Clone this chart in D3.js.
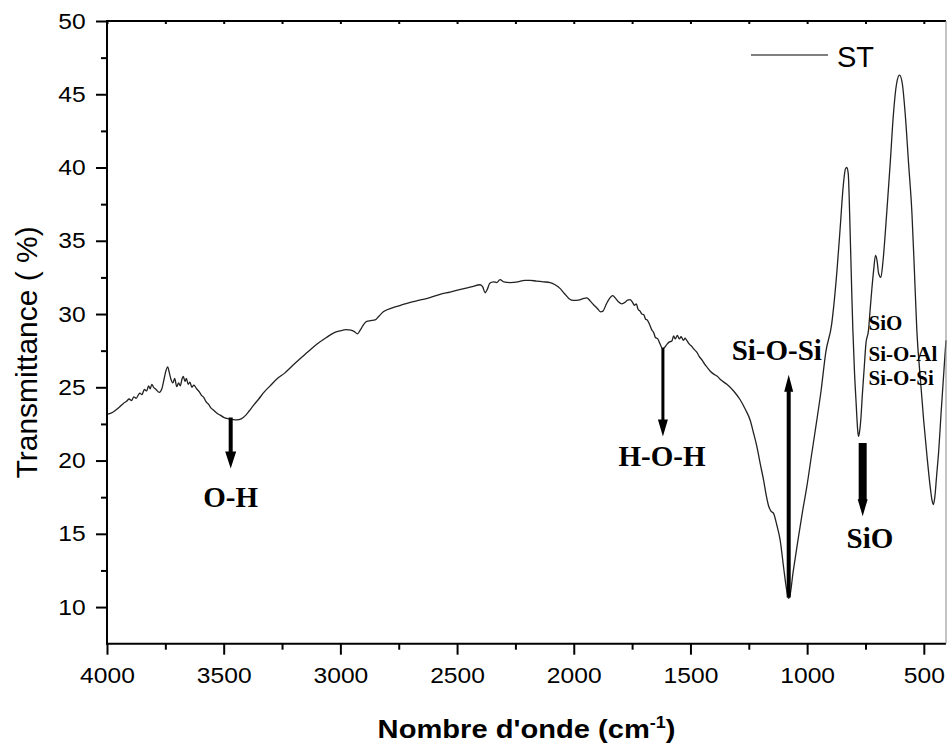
<!DOCTYPE html>
<html>
<head>
<meta charset="utf-8">
<script src="https://cdn.jsdelivr.net/npm/d3@7"></script>
<style>
  html, body { margin: 0; padding: 0; background: #fff; }
  svg { display: block; font-family: "Liberation Sans", Arial, sans-serif; }
</style>
</head>
<body>
<div id="chart"></div>
<script>
// FTIR spectrum of sample ST
const wavenumber = [
  4000, 3975, 3950, 3930, 3916, 3905, 3895, 3885, 3875, 3865, 3859, 3850, 3840, 3830, 3822, 3815, 3808, 3800,
  3790, 3776, 3765, 3755, 3748, 3740, 3733, 3725, 3718, 3710, 3701, 3693, 3686, 3678, 3673, 3666, 3660, 3652,
  3645, 3636, 3628, 3616, 3605, 3595, 3585, 3575, 3565, 3555, 3544, 3530, 3515, 3500, 3480, 3460, 3444, 3425,
  3405, 3390, 3373, 3350, 3325, 3301, 3270, 3240, 3210, 3180, 3144, 3100, 3060, 3030, 3001, 2975, 2955, 2940,
  2927, 2915, 2900, 2887, 2870, 2851, 2835, 2816, 2780, 2740, 2700, 2673, 2620, 2573, 2530, 2480, 2440, 2401,
  2390, 2380, 2370, 2360, 2344, 2330, 2316, 2300, 2273, 2240, 2210, 2187, 2160, 2130, 2101, 2080, 2059, 2040,
  2020, 2001, 1980, 1960, 1944, 1930, 1916, 1900, 1885, 1875, 1860, 1845, 1833, 1820, 1810, 1794, 1780, 1770,
  1759, 1748, 1740, 1732, 1725, 1716, 1708, 1700, 1692, 1685, 1673, 1665, 1658, 1650, 1640, 1630, 1620, 1612,
  1600, 1590, 1580, 1572, 1565, 1556, 1548, 1540, 1530, 1523, 1516, 1505, 1495, 1485, 1473, 1462, 1450, 1440,
  1430, 1415, 1400, 1385, 1373, 1344, 1315, 1287, 1265, 1244, 1230, 1216, 1200, 1187, 1175, 1166, 1155, 1144,
  1130, 1116, 1100, 1090, 1080, 1075, 1060, 1040, 1020, 1001, 980, 960, 940, 920, 895, 872, 859, 845,
  836, 830, 824, 816, 808, 804, 797, 790, 784, 780, 776, 770, 763, 756, 748, 737, 730, 723,
  715, 707, 700, 694, 684, 675, 659, 644, 630, 617, 604, 592, 580, 565, 551, 540, 530, 515,
  501, 487, 473, 465, 459, 453, 445, 437, 425, 409, 405
];
const transmittance = [
  23.15, 23.3, 23.6, 23.9, 24.05, 24.2, 24.1, 24.35, 24.25, 24.5, 24.6, 24.5, 24.85, 24.75, 25.1, 24.9, 25.2, 25.0,
  24.85, 24.65, 24.9, 25.6, 26.1, 26.4, 26.0, 25.5, 25.3, 25.6, 25.05, 25.3, 25.1, 25.6, 25.75, 25.4, 25.6, 25.2,
  25.35, 25.0, 25.15, 24.9, 24.7, 24.45, 24.3, 24.0, 23.85, 23.6, 23.45, 23.25, 23.1, 22.95, 22.85, 22.8, 22.78, 22.85,
  23.1, 23.4, 23.75, 24.2, 24.7, 25.1, 25.6, 25.95, 26.4, 26.85, 27.35, 27.95, 28.4, 28.7, 28.85, 28.93, 28.9, 28.8,
  28.65, 28.9, 29.3, 29.5, 29.55, 29.6, 29.85, 30.15, 30.4, 30.6, 30.8, 30.9, 31.1, 31.35, 31.5, 31.7, 31.85, 32.0,
  31.85, 31.45, 31.7, 32.1, 32.2, 32.15, 32.35, 32.2, 32.15, 32.2, 32.3, 32.3, 32.25, 32.2, 32.15, 32.0, 31.75, 31.4,
  31.05, 30.93, 30.95, 31.05, 31.1, 30.9, 30.65, 30.4, 30.15, 30.2, 30.7, 31.1, 31.25, 31.05, 30.85, 30.7, 30.8, 30.95,
  30.98, 30.8, 30.6, 30.7, 30.35, 30.2, 30.0, 29.95, 29.65, 29.6, 29.2, 28.9, 28.75, 28.4, 28.3, 27.95, 27.65, 27.7,
  27.95, 28.1, 28.15, 28.5, 28.3, 28.55, 28.3, 28.45, 28.2, 28.35, 28.2, 27.95, 27.8, 27.6, 27.4, 27.1, 26.85, 26.6,
  26.4, 26.1, 25.9, 25.75, 25.55, 25.2, 24.75, 24.15, 23.5, 22.75, 21.9, 21.0, 19.7, 18.7, 17.6, 16.95, 16.55, 16.4,
  15.6, 14.6, 12.6, 11.4, 10.6, 10.7, 12.4, 14.5, 16.5, 18.25, 20.5, 22.6, 24.8, 27.4, 29.3, 33.0, 35.75, 38.8,
  39.9, 40.0, 39.6, 35.75, 31.0, 28.9, 26.0, 23.9, 22.2, 21.65, 21.9, 22.8, 24.6, 26.2, 28.0, 28.9, 30.3, 31.66,
  33.0, 34.0, 33.6, 32.8, 32.5, 33.6, 36.9, 40.3, 43.7, 45.7, 46.3, 45.7, 43.7, 40.2, 36.9, 32.8, 28.9, 25.6,
  22.8, 20.4, 18.25, 17.3, 17.0, 17.5, 19.0, 20.5, 23.5, 27.3, 28.2
];

const seriesName = 'ST';
const xMajorTicks = [4000, 3500, 3000, 2500, 2000, 1500, 1000, 500];
const xMinorTicks = [3750, 3250, 2750, 2250, 1750, 1250, 750];
const yMajorTicks = [10, 15, 20, 25, 30, 35, 40, 45, 50];
const yMinorTicks = [12.5, 17.5, 22.5, 27.5, 32.5, 37.5, 42.5, 47.5];

// band assignments: text placed at (wavenumber, transmittance)
const bandLabels = [
  { text: 'O-H', wn: 3470, t: 16.86, kind: 'big', anchor: 'middle' },
  { text: 'H-O-H', wn: 1622, t: 19.6, kind: 'big', anchor: 'middle' },
  { text: 'Si-O-Si', wn: 1130, t: 26.89, kind: 'big', anchor: 'middle' },
  { text: 'SiO', wn: 731, t: 14.05, kind: 'big', anchor: 'middle' },
  { text: 'SiO', wn: 737, t: 28.93, kind: 'small', anchor: 'start' },
  { text: 'Si-O-Al', wn: 737, t: 26.77, kind: 'small', anchor: 'start' },
  { text: 'Si-O-Si', wn: 737, t: 25.18, kind: 'small', anchor: 'start' }
];
// arrows: from transmittance -> to transmittance (tip)
const bandArrows = [
  { wn: 3470, from: 22.93, to: 19.45 },
  { wn: 1618, from: 27.7, to: 21.64 },
  { wn: 1079, from: 10.66, to: 25.86 },
  { wn: 762, from: 21.2, to: 16.2 }
];
const arrowShaft = [4, 3, 4, 8];
const arrowHead = [11, 10, 9, 10];

const width = 947;
const height = 745;
const plot = { left: 107, right: 946, top: 21, bottom: 643.7 };

const svg = d3.select('#chart').append('svg')
  .attr('width', width)
  .attr('height', height);

const x = d3.scaleLinear().domain([4000, 405]).range([plot.left, plot.right]);
const y = d3.scaleLinear().domain([7.5, 50]).range([plot.bottom, plot.top]);

const points = wavenumber.map((wn, i) => ({ wn, t: transmittance[i] }));

// spectrum
const line = d3.line()
  .x((d) => x(d.wn))
  .y((d) => y(d.t))
  .curve(d3.curveMonotoneX);

svg.append('path')
  .datum(points)
  .attr('fill', 'none')
  .attr('stroke', '#222')
  .attr('stroke-width', 1.3)
  .attr('stroke-linejoin', 'round')
  .attr('d', line);

// axes
const styleAxis = (g) => {
  g.select('.domain').remove();
  g.selectAll('.tick line').attr('stroke', '#000').attr('stroke-width', 2);
  g.selectAll('.tick text')
    .attr('fill', '#000')
    .attr('font-size', 22)
    .attr('transform', 'scale(1.12,1)');
};

svg.append('g')
  .attr('transform', `translate(0,${plot.bottom})`)
  .call(d3.axisBottom(x).tickValues(xMajorTicks).tickSize(11).tickPadding(13).tickFormat(d3.format('d')))
  .call(styleAxis);

svg.append('g')
  .attr('transform', `translate(0,${plot.bottom})`)
  .call(d3.axisBottom(x).tickValues(xMinorTicks).tickSize(6).tickFormat(''))
  .call(styleAxis);

svg.append('g')
  .attr('transform', `translate(${plot.left},0)`)
  .call(d3.axisLeft(y).tickValues(yMajorTicks).tickSize(11).tickPadding(8).tickFormat(d3.format('d')))
  .call(styleAxis);

svg.append('g')
  .attr('transform', `translate(${plot.left},0)`)
  .call(d3.axisLeft(y).tickValues(yMinorTicks).tickSize(6).tickFormat(''))
  .call(styleAxis);

svg.append('g')
  .attr('transform', `translate(0,${plot.top})`)
  .call(d3.axisTop(x).tickValues(xMajorTicks.concat(xMinorTicks)).tickSize(-3).tickFormat(''))
  .call(styleAxis);

// frame
svg.append('line')
  .attr('x1', plot.left).attr('x2', plot.left)
  .attr('y1', plot.top - 1).attr('y2', plot.bottom + 1)
  .attr('stroke', '#000').attr('stroke-width', 2);
svg.append('line')
  .attr('x1', plot.left - 1).attr('x2', plot.right)
  .attr('y1', plot.bottom).attr('y2', plot.bottom)
  .attr('stroke', '#000').attr('stroke-width', 2);
svg.append('line')
  .attr('x1', plot.left - 1).attr('x2', plot.right)
  .attr('y1', plot.top).attr('y2', plot.top)
  .attr('stroke', '#000').attr('stroke-width', 2);
svg.append('line')
  .attr('x1', plot.right).attr('x2', plot.right)
  .attr('y1', plot.top).attr('y2', plot.bottom)
  .attr('stroke', '#888').attr('stroke-width', 1);

// axis titles
svg.append('text')
  .attr('transform', `translate(37,${(plot.top + plot.bottom) / 2 + 20}) rotate(-90)`)
  .attr('text-anchor', 'middle')
  .attr('font-size', 30)
  .text('Transmittance ( %)');

const xTitle = svg.append('text')
  .attr('transform', `translate(${(plot.left + plot.right) / 2},738) scale(1.12,1)`)
  .attr('text-anchor', 'middle')
  .attr('font-size', 26)
  .attr('font-weight', 'bold');
xTitle.append('tspan').text('Nombre d\'onde (cm');
xTitle.append('tspan').attr('font-size', 16).attr('dy', -10).text('-1');
xTitle.append('tspan').attr('dy', 10).text(')');

// legend
svg.append('line')
  .attr('x1', 751).attr('x2', 828)
  .attr('y1', 55).attr('y2', 55)
  .attr('stroke', '#000').attr('stroke-width', 1.2);
svg.append('text')
  .attr('x', 837).attr('y', 67)
  .attr('font-size', 29)
  .text(seriesName);

// arrows
const arrowPath = (d, i) => {
  const cx = x(d.wn);
  const y0 = y(d.from);
  const y1 = y(d.to);
  const dir = y1 > y0 ? 1 : -1;
  const headLen = 17;
  const hs = arrowShaft[i] / 2;
  const hh = arrowHead[i] / 2;
  const yb = y1 - dir * headLen;
  return `M${cx - hs},${y0} L${cx + hs},${y0} L${cx + hs},${yb} L${cx + hh},${yb} L${cx},${y1} L${cx - hh},${yb} L${cx - hs},${yb} Z`;
};

svg.append('g')
  .selectAll('path')
  .data(bandArrows)
  .join('path')
  .attr('d', arrowPath)
  .attr('fill', '#000');

// band labels
svg.append('g')
  .attr('font-family', '"Liberation Serif", "Times New Roman", serif')
  .attr('font-weight', 'bold')
  .selectAll('text')
  .data(bandLabels)
  .join('text')
  .attr('x', (d) => x(d.wn))
  .attr('y', (d) => y(d.t))
  .attr('text-anchor', (d) => d.anchor)
  .attr('font-size', (d) => (d.kind === 'big' ? 29 : 21))
  .text((d) => d.text);
</script>
</body>
</html>
